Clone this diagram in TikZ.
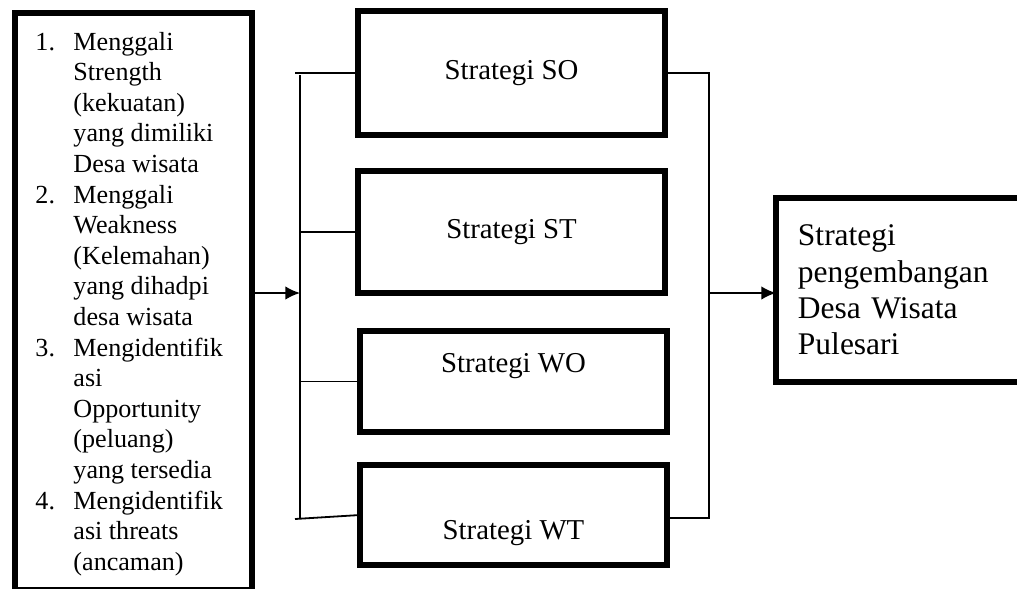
\documentclass[tikz,border=0pt]{standalone}
\usepackage{fontspec}
\setmainfont{Liberation Serif}
\usetikzlibrary{arrows.meta,positioning}
\tikzset{>={Latex[length=6.5pt,width=6pt]}}
\newcommand{\pu}{0.4444pt}
\tikzset{
  box/.style={draw,line width=2.67pt,inner sep=0pt,outer sep=0pt},
  link/.style={line width=0.8pt},
  stratfont/.style={font=\fontsize{12.8}{14.7}\selectfont},
}

\begin{document}
\begin{tikzpicture}[x=\pu,y=-\pu]
  \useasboundingbox (0,0) rectangle (1017,588);
  \clip (0,0) rectangle (1017,588);
  % SWOT list
  \node[box,minimum width=237*\pu,minimum height=577*\pu] (swot) at (133.5,301.5) {};
  \node[anchor=base west,inner sep=0pt,font=\fontsize{11.6}{13.6}\selectfont] (swottxt) at (35,50)
  {\begin{tabular}[t]{@{}p{16.9pt}@{}l@{}}
    1. & Menggali\\
       & Strength\\
       & (kekuatan)\\
       & yang dimiliki\\
       & Desa wisata\\
    2. & Menggali\\
       & Weakness\\
       & (Kelemahan)\\
       & yang dihadpi\\
       & desa wisata\\
    3. & Mengidentifik\\
       & asi\\
       & Opportunity\\
       & (peluang)\\
       & yang tersedia\\
    4. & Mengidentifik\\
       & asi threats\\
       & (ancaman)
  \end{tabular}};
  % strategies
  \node[box,stratfont,minimum width=307*\pu,minimum height=124*\pu] (so) at (511.5,73) {Strategi SO};
  \node[box,stratfont,minimum width=307*\pu,minimum height=122*\pu] (st) at (511.5,232) {Strategi ST};
  \node[box,minimum width=307*\pu,minimum height=101*\pu,
        label={[name=wotxt,stratfont,yshift=7pt]center:Strategi WO}] (wo) at (513.5,381.5) {};
  \node[box,minimum width=307*\pu,minimum height=100*\pu,
        label={[name=wttxt,stratfont,yshift=-8pt]center:Strategi WT}] (wt) at (513.5,515) {};
  % result
  \node[box,minimum width=264*\pu,minimum height=184*\pu,text width=97.8pt,align=left,
        inner xsep=9.78pt,font=\fontsize{14}{16.1}\selectfont] (fin) at (908,290)
        {Strategi\\pengembangan\\Desa Wisata\\Pulesari};
  % left bus
  \coordinate (lbus) at (300,293);
  \coordinate (ltop) at (300,75);
  \coordinate (lbot) at (300,519);
  \draw[link,->] (swot.east |- lbus) -- (lbus);
  \draw[link] (ltop) -- (lbot);
  \draw[link] (so.west) -- ++(-63,0);
  \draw[link] (st.west) -- (st.west -| ltop);
  \draw[link] (wo.west) -- (wo.west -| ltop);
  \draw[link] (wt.west) -- (295,519);
  % right bus
  \coordinate (rbus) at (709,293);
  \coordinate (rtop) at (709,73);
  \coordinate (rbot) at (709,518);
  \draw[link] (so.east) -- (rtop) -- (rbot) -- (rbot -| wt.east);
  \draw[link,->] (rbus) -- (rbus -| fin.west);
\end{tikzpicture}
\end{document}
